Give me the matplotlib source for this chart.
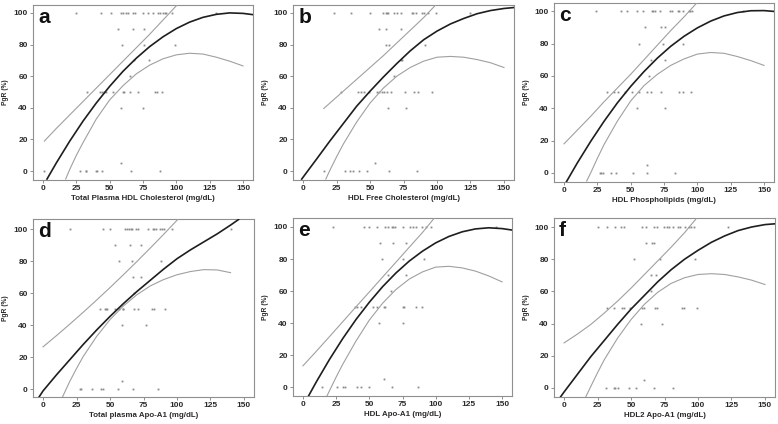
import matplotlib
matplotlib.use("Agg")
import matplotlib.pyplot as plt

plt.rcParams['font.family'] = ['Liberation Sans', 'DejaVu Sans']

# PgR levels at which points are stacked
pgr_levels = [100, 90, 80, 70, 60, 50, 40, 5, 0]

# x values of points for each PgR level (same order as pgr_levels)
a_pts = [[25, 43.75, 50.75, 58.75, 60, 62.5, 63.75, 67.5, 68.75, 75, 78.75, 82.5, 86.25, 87.5, 90, 91.25, 92.5, 97, 129.5],
         [56, 67.5, 75.5], [59.5, 75.5, 99], [68, 79.5], [65],
         [33, 42.5, 44.5, 46, 47.5, 52.5, 60, 61, 65.5, 71, 84, 85.5, 89],
         [58.5, 75], [58.5], [1, 28, 32, 32.5, 39.5, 40.5, 44, 66, 87.5]]
b_pts = [[23, 35.5, 50, 60, 62, 63, 63.5, 68, 70, 73.5, 81, 82, 84, 88.5, 90, 93, 99, 125],
         [57, 62, 73.5], [62, 64, 91], [73, 74], [68],
         [28.5, 41, 43.5, 45.5, 49, 55, 57, 59, 60.5, 62.5, 66, 76, 83, 86, 96],
         [63.5, 77], [54], [15.5, 31, 35, 37, 42, 47.5, 64, 85]]
c_pts = [[24, 42.5, 47, 54.5, 59.5, 66, 67, 68.5, 72, 79.5, 81, 85.5, 86.5, 89, 93.5, 94.5, 96, 134.5],
         [61, 73, 76], [56, 74, 89], [65, 76], [64],
         [32.5, 37.5, 40.5, 45.5, 51, 56, 62, 65, 73, 86.5, 89, 95.5],
         [55, 76], [62], [27, 28, 29.5, 35.5, 39, 52, 62.5, 83]]
d_pts = [[20, 44.5, 50, 61, 62.5, 64.5, 66, 66.5, 69.5, 71, 78, 82, 83, 84.5, 87, 89, 90, 96, 140],
         [54, 65, 73], [57, 66.5, 88], [67, 73], [68],
         [42.5, 46, 47, 48, 54, 57, 59.5, 60, 68, 71, 81, 83, 91],
         [59, 77], [59], [27.5, 28, 36.5, 43, 44.5, 56, 67.5, 86]]
e_pts = [[23, 46, 49.5, 56, 61.5, 64, 67, 68, 69.5, 75, 81, 83, 85, 90, 93, 96.5, 145.5],
         [58, 68, 78], [59.5, 75, 91], [64, 78], [66.5],
         [39, 41, 43.5, 52.5, 56, 61, 62, 75, 76.5, 85, 90],
         [57, 75], [61], [14.5, 26, 30, 31.5, 40.5, 44, 49.5, 67, 87]]
f_pts = [[25.5, 32, 38, 42.5, 44.5, 58, 61.5, 67.5, 69.5, 74.5, 77, 78, 81, 85, 86.5, 90, 93, 94.5, 97, 122.5],
         [61.5, 66, 67], [52, 71.5, 98], [65, 69], [65],
         [32, 37.5, 43, 45, 49.5, 58.5, 60, 68, 69.5, 88, 89.5, 99.5],
         [57.5, 73], [60], [31.5, 37, 38, 40, 48.5, 54, 67, 81]]

# Fitted curves
a_fit_x = [3, 10, 20, 30, 40, 50, 60, 70, 80, 90, 100, 110, 120, 130, 140, 150, 157.5]
a_fit_y = [-5, 5.2, 18.9, 31.6, 43.1, 53.6, 63.1, 71.4, 78.7, 84.9, 90.1, 94.2, 97.2, 99.1, 100, 99.7, 98.9]
a_up_x = [1, 10, 20, 30, 40, 50, 60, 70, 80, 90, 100, 101]
a_up_y = [19, 27, 35.5, 44, 52.5, 61, 69.5, 78, 86.5, 95.5, 104.5, 105.5]
a_lo_x = [17, 20, 25, 30, 40, 50, 60, 70, 80, 90, 100, 110, 120, 130, 140, 150]
a_lo_y = [-5, 1, 10, 18, 33, 45, 54, 61.5, 67, 71, 73.5, 74.5, 74, 72, 69.5, 66.5]

b_fit_x = [-1, 10, 20, 30, 40, 50, 60, 70, 80, 90, 100, 110, 120, 130, 140, 150, 157.5]
b_fit_y = [-5, 7.5, 19, 30, 41, 50.5, 59.5, 68, 76, 83, 88.5, 93, 96.5, 99.5, 101.5, 102.8, 103.4]
b_up_x = [15.5, 20, 30, 40, 50, 60, 70, 80, 90, 99]
b_up_y = [39.6, 43, 50.5, 58, 65.5, 73, 81, 89, 97, 105]
b_lo_x = [17, 20, 25, 30, 40, 50, 60, 70, 80, 90, 100, 110, 120, 130, 140, 150]
b_lo_y = [-5, 0.5, 9, 17, 31, 43, 52.5, 60, 65.5, 69.5, 72, 72.5, 72, 70.5, 68.5, 65.5]

c_fit_x = [1.7, 10, 20, 30, 40, 50, 60, 70, 80, 90, 100, 110, 120, 130, 140, 150, 157.5]
c_fit_y = [-5.6, 6.2, 19.5, 31.9, 43.3, 53.5, 62.7, 71.0, 78.3, 84.5, 89.7, 93.9, 97.1, 99.2, 100.3, 100.4, 99.9]
c_up_x = [0, 10, 20, 30, 40, 50, 60, 70, 80, 90, 100]
c_up_y = [18, 26.5, 35, 44, 52.5, 61, 70, 79, 88, 96.5, 105.5]
c_lo_x = [17, 20, 25, 30, 40, 50, 60, 70, 80, 90, 100, 110, 120, 130, 140, 150]
c_lo_y = [-5, 0, 9, 17.5, 32, 44.5, 54, 61, 66.5, 70.5, 73.5, 74.5, 74, 72, 69.5, 66.5]

d_fit_x = [-3, 0, 10, 20, 30, 40, 50, 60, 70, 80, 90, 100, 110, 120, 130, 140, 146]
d_fit_y = [-4.8, -1, 9, 18.5, 28, 37, 45.5, 53.5, 61, 68, 75, 81.5, 87, 92, 97, 102.5, 106]
d_up_x = [0, 10, 20, 30, 40, 50, 60, 70, 80, 90, 100, 101.5]
d_up_y = [26.5, 33.5, 40.7, 48.1, 55.7, 63.5, 71.5, 79.7, 88.1, 96.7, 105.5, 106.8]
d_lo_x = [14.5, 20, 25, 30, 40, 50, 60, 70, 80, 90, 100, 110, 120, 130, 140]
d_lo_y = [-4.8, 5, 13, 20.5, 33, 43.5, 52, 59, 64.5, 68.5, 71.5, 73.5, 74.7, 74.5, 72.8]

e_fit_x = [4, 10, 20, 30, 40, 50, 60, 70, 80, 90, 100, 110, 120, 130, 140, 150, 157.5]
e_fit_y = [-5.6, 3.4, 17.5, 30.5, 42.4, 53.1, 62.8, 71.3, 78.7, 84.9, 90.1, 94.1, 97, 98.8, 99.5, 99, 98.1]
e_up_x = [0, 10, 20, 30, 40, 50, 60, 70, 80, 90, 99]
e_up_y = [13.5, 22.5, 31.7, 41, 50.3, 59.5, 68.8, 78, 87.3, 96.5, 105.6]
e_lo_x = [18, 20, 25, 30, 40, 50, 60, 70, 80, 90, 100, 110, 120, 130, 140, 150]
e_lo_y = [-5.4, -2, 6.5, 14.5, 29, 42, 52.5, 61, 67.5, 72, 75, 75.5, 74.5, 72.5, 69.5, 65.8]

f_fit_x = [-2.5, 0, 10, 20, 30, 40, 50, 60, 70, 80, 90, 100, 110, 120, 130, 140, 150, 157.5]
f_fit_y = [-5.4, -2.5, 8.5, 19.5, 29.5, 39.5, 49, 57.5, 66, 73.5, 80, 85.5, 90.5, 94.5, 97.8, 100, 101.5, 102]
f_up_x = [0, 10, 20, 30, 40, 50, 60, 70, 80, 90, 99]
f_up_y = [28, 33.5, 39.5, 46.5, 54, 62, 70.5, 79, 87.5, 96.5, 105.5]
f_lo_x = [16.3, 20, 25, 30, 40, 50, 60, 70, 80, 90, 100, 110, 120, 130, 140, 150]
f_lo_y = [-5.4, 1, 9.5, 17.5, 31, 42.5, 52, 59.5, 65, 68.5, 70.5, 71, 70.5, 69, 67, 64.3]

letters = ['a', 'b', 'c', 'd', 'e', 'f']
xlabels = ['Total Plasma HDL Cholesterol (mg/dL)', 'HDL Free Cholesterol (mg/dL)',
           'HDL Phospholipids (mg/dL)', 'Total plasma Apo-A1 (mg/dL)',
           'HDL Apo-A1 (mg/dL)', 'HDL2 Apo-A1 (mg/dL)']
x_ticks = [0, 25, 50, 75, 100, 125, 150]
y_ticks = [0, 20, 40, 60, 80, 100]

panels = [
    (a_pts, a_fit_x, a_fit_y, a_up_x, a_up_y, a_lo_x, a_lo_y),
    (b_pts, b_fit_x, b_fit_y, b_up_x, b_up_y, b_lo_x, b_lo_y),
    (c_pts, c_fit_x, c_fit_y, c_up_x, c_up_y, c_lo_x, c_lo_y),
    (d_pts, d_fit_x, d_fit_y, d_up_x, d_up_y, d_lo_x, d_lo_y),
    (e_pts, e_fit_x, e_fit_y, e_up_x, e_up_y, e_lo_x, e_lo_y),
    (f_pts, f_fit_x, f_fit_y, f_up_x, f_up_y, f_lo_x, f_lo_y),
]

W, H = 778, 424
# axes boxes in pixels: left, top, right, bottom
boxes = [(33, 5, 253, 180), (293, 5, 514, 180), (554, 3, 774, 182),
         (33, 219, 254, 397), (293, 218, 512, 396), (554, 218, 775, 397)]
ylims = [(-5.6, 105), (-5.6, 105), (-5.6, 105.1), (-4.8, 106.3), (-5.3, 105.6), (-5.6, 105.6)]

fig = plt.figure(figsize=(W / 100, H / 100), dpi=100)
frame_col = '#8f8f8f'
for i, (pts, fx, fy, ux, uy, lx, ly) in enumerate(panels):
    l, t, r, b = boxes[i]
    ax = fig.add_axes([l / W, 1 - b / H, (r - l) / W, (b - t) / H])
    px, py = [], []
    for lev, xs in zip(pgr_levels, pts):
        for xv in xs:
            px.append(xv)
            py.append(lev)
    ax.plot(px, py, linestyle='none', marker='s', markersize=1.3, color='#8a8a8a',
            markeredgewidth=0, zorder=2)
    ax.plot(ux, uy, color='#a0a0a0', lw=0.8, zorder=3)
    ax.plot(lx, ly, color='#a0a0a0', lw=0.8, zorder=3)
    ax.plot(fx, fy, color='#1e1e1e', lw=1.2, zorder=4)
    ax.set_xlim(-7.5, 157.5)
    ax.set_ylim(*ylims[i])
    ax.set_xticks(x_ticks)
    ax.set_yticks(y_ticks)
    ax.tick_params(direction='out', length=2.2, width=0.7, color=frame_col,
                   labelsize=6, labelcolor='#2a2a2a', pad=1.5)
    for lab in ax.get_xticklabels() + ax.get_yticklabels():
        lab.set_fontweight('bold')
    for sp in ax.spines.values():
        sp.set_color(frame_col)
        sp.set_linewidth(0.8)
    ax.set_xlabel(xlabels[i], fontsize=5.7, fontweight='bold', color='#2a2a2a', labelpad=2)
    ax.set_ylabel('PgR (%)', fontsize=4.8, fontweight='bold', color='#2a2a2a', labelpad=3)
    ax.text(0.023, 0.985, letters[i], transform=ax.transAxes, fontsize=15,
            fontweight='bold', va='top', ha='left', color='#111111')

fig.savefig('out.png', dpi=100)
